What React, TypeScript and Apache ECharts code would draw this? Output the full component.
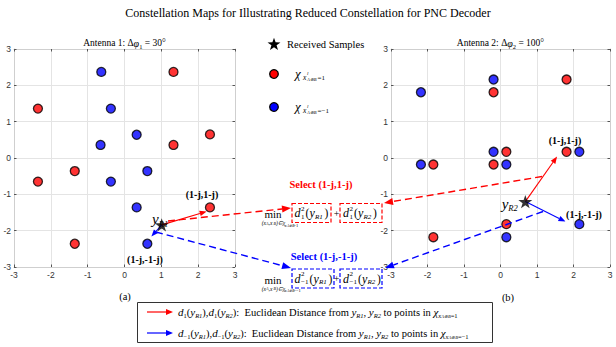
import React, { useEffect, useRef } from "react";
import * as echarts from "echarts";

// ---------- data ----------
const axisMin = -3;
const axisMax = 3;
const ant1Red: number[][] = [[1.33, 2.37], [-2.35, 1.36], [1.33, 0.36], [2.32, 0.65], [-1.35, -0.36], [-2.35, -0.65], [2.32, -1.36], [-1.35, -2.36]];
const ant1Blue: number[][] = [[-0.63, 2.37], [-0.37, 1.36], [0.33, 0.64], [-0.65, 0.36], [0.62, -0.36], [-0.37, -0.65], [0.33, -1.36], [0.62, -2.36]];
const ant1Sample: number[][] = [[1.01, -1.84]];
const ant2Red: number[][] = [[1.81, 2.16], [-0.19, 1.81], [0.16, 0.17], [1.81, 0.17], [-1.84, -0.18], [-0.19, -0.18], [0.16, -1.82], [-1.84, -2.18]];
const ant2Blue: number[][] = [[-0.19, 2.16], [-2.18, 1.81], [-0.19, 0.17], [2.16, 0.17], [-2.18, -0.18], [0.16, -0.18], [2.16, -1.82], [0.16, -2.18]];
const ant2Sample: number[][] = [[0.68, -1.2]];
// solid arrow tips (data coords)
const ant1TipRed = [2.23, -1.47];
const ant1TipBlue = [0.73, -2.16];
const ant2TipRed = [1.55, 0.04];
const ant2TipBlue = [1.78, -1.75];

const RED = "#ff0000";
const BLUE = "#0000ff";
const SERIF = '"Liberation Serif", "Times New Roman", serif';
const SANS = '"Liberation Sans", Arial, sans-serif';
const STAR = "path://M50,0 L61.8,35.1 L98.9,35.1 L69,57.3 L80.3,92.7 L50,71 L19.7,92.7 L31,57.3 L1.1,35.1 L38.2,35.1 Z";

function T(x: number, y: number, text: string, size: number, o: any = {}) {
  return {
    type: "text", x, y, silent: true, z: o.z ?? 5,
    style: {
      text, fontSize: size, fontFamily: o.family || SERIF,
      fontStyle: o.italic ? "italic" : "normal", fontWeight: o.bold ? "bold" : "normal",
      fill: o.color || "#000", align: o.align || "left", verticalAlign: "middle",
    },
  };
}

function arrow(x1: number, y1: number, x2: number, y2: number, color: string, dash: boolean, head = 8, hw = 3.2, w = 1.3) {
  const dx = x2 - x1, dy = y2 - y1, L = Math.hypot(dx, dy);
  const ux = dx / L, uy = dy / L;
  const bx = x2 - ux * head, by = y2 - uy * head;
  return [
    { type: "line", silent: true, z: 4, shape: { x1, y1, x2: bx, y2: by }, style: { stroke: color, lineWidth: w, lineDash: dash ? [7, 4] : null } },
    { type: "polygon", silent: true, z: 4, shape: { points: [[x2, y2], [bx - uy * hw, by + ux * hw], [bx + uy * hw, by - ux * hw]] }, style: { fill: color } },
  ];
}

function starPoly(cx: number, cy: number, R: number, r: number) {
  const pts: number[][] = [];
  for (let k = 0; k < 10; k++) {
    const ang = -Math.PI / 2 + (k * Math.PI) / 5;
    const rad = k % 2 === 0 ? R : r;
    pts.push([cx + rad * Math.cos(ang), cy + rad * Math.sin(ang)]);
  }
  return { type: "polygon", silent: true, z: 5, shape: { points: pts }, style: { fill: "#000" } };
}

function dTerm(x: number, y: number, sub: string, r: string) {
  const sw = sub.length > 1 ? 8 : 4;
  const els: any[] = [];
  els.push(T(x, y, "d", 12, { italic: true }));
  els.push(T(x + 6.5, y - 4.5, "2", 7));
  els.push(T(x + 6.5, y + 3.5, sub, 7));
  const p = x + 6.5 + sw + 0.5;
  els.push(T(p, y, "(", 11.5));
  els.push(T(p + 4, y, "y", 12, { italic: true }));
  els.push(T(p + 9.5, y + 3.5, "R" + r, 7, { italic: true }));
  els.push(T(p + 19, y, ")", 11.5));
  return els;
}

function chiLabel(x: number, y: number, v: string) {
  return [
    T(x, y, "χ", 13, { italic: true }),
    T(x + 8, y + 4, "x", 7.5, { italic: true }),
    T(x + 12, y + 0.5, "l", 5, { italic: true }),
    T(x + 12, y + 6, "A⊕B", 4.5, { italic: true }),
    T(x + 22.5, y + 4.5, "=" + v, 7),
  ];
}

const rich = {
  n: { fontSize: 10.5, fontFamily: SERIF, lineHeight: 14 },
  i: { fontSize: 11, fontFamily: SERIF, fontStyle: "italic", lineHeight: 14 },
  s: { fontSize: 6.5, fontFamily: SERIF, fontStyle: "italic", lineHeight: 8, verticalAlign: "bottom" },
  sn: { fontSize: 6.5, fontFamily: SERIF, lineHeight: 8, verticalAlign: "bottom" },
  t: { fontSize: 4.5, fontFamily: SERIF, fontStyle: "italic", lineHeight: 6, verticalAlign: "bottom" },
};

function legendRow(y: number, sub: string, eq: string) {
  return {
    type: "text", x: 178, y, silent: true, z: 5,
    style: {
      text: `{i|d}{sn|${sub}}{n|(}{i|y}{s|R1}{n|),}{i|d}{sn|${sub}}{n|(}{i|y}{s|R2}{n|):  Euclidean Distance from }{i|y}{s|R1}{n|, }{i|y}{s|R2}{n| to points in }{i|χ}{s|x}{t|A⊕B}{sn|=${eq}}`,
      rich, align: "left", verticalAlign: "middle", fill: "#000",
    },
  };
}

function axesFor(grid: number) {
  const common = {
    gridIndex: grid, type: "value", min: axisMin, max: axisMax, interval: 1,
    axisLine: { show: true, onZero: false, lineStyle: { color: "#cfcfcf", width: 1 } },
    axisTick: { show: true, inside: true, length: 2.5, lineStyle: { color: "#555" } },
  };
  const lbl = { fontSize: 8.5, fontFamily: SANS, color: "#333", margin: 3 };
  return {
    x: [
      { ...common, position: "bottom", splitLine: { show: true, lineStyle: { color: "#e4e4e4" } }, axisLabel: lbl },
      { ...common, position: "top", splitLine: { show: false }, axisLabel: { show: false } },
    ],
    y: [
      { ...common, position: "left", splitLine: { show: true, lineStyle: { color: "#e4e4e4" } }, axisLabel: lbl },
      { ...common, position: "right", splitLine: { show: false }, axisLabel: { show: false } },
    ],
  };
}

export default function App() {
  const ref = useRef<HTMLDivElement>(null);
  useEffect(() => {
    document.body.style.margin = "0";
    const chart = echarts.init(ref.current!, null, { renderer: "svg" });
    const a0 = axesFor(0), a1 = axesFor(1);
    const dot = (color: string) => ({ symbol: "circle", symbolSize: 9, itemStyle: { color, borderColor: "#000", borderWidth: 1.3 }, z: 3 });
    const star = { symbol: STAR, symbolSize: 14, symbolKeepAspect: true, itemStyle: { color: "#000" }, z: 6 };
    chart.setOption({
      animation: false,
      grid: [
        { left: 14, top: 49, width: 221, height: 218, outerBoundsMode: "none" },
        { left: 391, top: 49, width: 219, height: 218, outerBoundsMode: "none" },
      ],
      xAxis: [...a0.x, ...a1.x],
      yAxis: [...a0.y, ...a1.y],
      series: [
        { type: "scatter", xAxisIndex: 0, yAxisIndex: 0, data: ant1Red, ...dot(RED) },
        { type: "scatter", xAxisIndex: 0, yAxisIndex: 0, data: ant1Blue, ...dot(BLUE) },
        { type: "scatter", xAxisIndex: 0, yAxisIndex: 0, data: ant1Sample, ...star },
        { type: "scatter", xAxisIndex: 2, yAxisIndex: 2, data: ant2Red, ...dot(RED) },
        { type: "scatter", xAxisIndex: 2, yAxisIndex: 2, data: ant2Blue, ...dot(BLUE) },
        { type: "scatter", xAxisIndex: 2, yAxisIndex: 2, data: ant2Sample, ...star },
      ],
    });

    const px = (si: number, v: number[]) => chart.convertToPixel({ seriesIndex: si }, v) as number[];
    const s1 = px(2, ant1Sample[0]);
    const s2 = px(5, ant2Sample[0]);
    const r1 = px(2, ant1TipRed), b1 = px(2, ant1TipBlue);
    const r2 = px(5, ant2TipRed), b2 = px(5, ant2TipBlue);

    const antRich = { ...rich, n: { ...rich.n, fontSize: 9.5 }, i: { ...rich.i, fontSize: 10 } };
    const els: any[] = [
      T(308, 13, "Constellation Maps for Illustrating Reduced Constellation for PNC Decoder", 12, { align: "center" }),
      {
        type: "text", x: 124.5, y: 43, silent: true,
        style: { text: "{n|Antenna 1: Δ}{i|φ}{sn|1}{n| = 30°}", rich: antRich, align: "center", verticalAlign: "middle" },
      },
      {
        type: "text", x: 500.5, y: 43, silent: true,
        style: { text: "{n|Antenna 2: Δ}{i|φ}{sn|2}{n| = 100°}", rich: antRich, align: "center", verticalAlign: "middle" },
      },
    ];
    // middle legend
    els.push(starPoly(274, 44.5, 6.8, 2.7));
    els.push(T(287, 44, "Received Samples", 10.5));
    els.push({ type: "circle", silent: true, shape: { cx: 274, cy: 74, r: 4.3 }, style: { fill: RED, stroke: "#000", lineWidth: 1.3 } });
    els.push({ type: "circle", silent: true, shape: { cx: 274, cy: 107, r: 4.3 }, style: { fill: BLUE, stroke: "#000", lineWidth: 1.3 } });
    els.push(...chiLabel(295, 73, "1"));
    els.push(...chiLabel(295, 106, "−1"));

    // labels near points
    els.push(T(s1[0] - 3, s1[1] - 6, "y", 15, { italic: true, align: "right", z: 1 }));
    els.push(T(s1[0] - 3, s1[1] - 1, "R1", 8.5, { italic: true, z: 1 }));
    els.push(T(s2[0] - 17, s2[1] + 2, "y", 15, { italic: true, align: "right", z: 1 }));
    els.push(T(s2[0] - 17, s2[1] + 6, "R2", 8.5, { italic: true, z: 1 }));
    els.push(T(202, 194, "(1-j,1-j)", 10, { bold: true, align: "center" }));
    els.push(T(145, 259, "(1-j,-1-j)", 10, { bold: true, align: "center" }));
    els.push(T(565, 140, "(1-j,1-j)", 10, { bold: true, align: "center" }));
    els.push(T(584, 214, "(1-j,-1-j)", 10, { bold: true, align: "center" }));

    // solid arrows
    els.push(...arrow(s1[0], s1[1], r1[0], r1[1], RED, false, 7, 2.8, 1.1));
    els.push(...arrow(s1[0], s1[1], b1[0], b1[1], BLUE, false, 7, 2.8, 1.1));
    els.push(...arrow(s2[0], s2[1], r2[0], r2[1], RED, false, 7, 2.8, 1.1));
    els.push(...arrow(s2[0], s2[1], b2[0], b2[1], BLUE, false, 7, 2.8, 1.1));
    // dashed arrows
    els.push(...arrow(168, 221, 291, 208, RED, true, 9, 3.5, 1.4));
    els.push(...arrow(156, 232, 291, 268, BLUE, true, 9, 3.5, 1.4));
    els.push(...arrow(542, 176.5, 384, 203, RED, true, 9, 3.5, 1.4));
    els.push(...arrow(543, 211.5, 385, 268, BLUE, true, 9, 3.5, 1.4));

    // select texts
    els.push(T(321, 184, "Select (1-j,1-j)", 10.5, { bold: true, color: RED, align: "center" }));
    els.push(T(324, 256, "Select (1-j,-1-j)", 10.5, { bold: true, color: BLUE, align: "center" }));

    // min expressions
    const boxes = (yTop: number, color: string, sub: string, eq: string, w1: number) => {
      const h = 19;
      const yc = yTop + h / 2;
      const out: any[] = [];
      out.push({ type: "rect", silent: true, z: 6, shape: { x: 292, y: yTop, width: w1, height: h }, style: { fill: "none", stroke: color, lineWidth: 1.2, lineDash: [4, 2] } });
      out.push({ type: "rect", silent: true, z: 6, shape: { x: 340, y: yTop, width: 42, height: h }, style: { fill: "none", stroke: color, lineWidth: 1.2, lineDash: [4, 2] } });
      out.push(...dTerm(294.5, yc, sub, "1"));
      out.push(T(336.5, yc, "+", 10, { align: "center" }));
      out.push(...dTerm(343, yc, sub, "2"));
      out.push(T(273, yc + 1, "min", 11, { align: "center" }));
      out.push(T(266, yc + 10, "(x", 5.5, { italic: true, align: "right" }));
      out.push(T(266, yc + 10, "A", 4, { italic: true }));
      out.push(T(268.5, yc + 10, ",x", 5.5, { italic: true }));
      out.push(T(273.5, yc + 10, "B", 4, { italic: true }));
      out.push(T(276, yc + 10, ")∈χ", 5.5, { italic: true }));
      out.push(T(284.5, yc + 12, "x", 4.5, { italic: true }));
      out.push(T(287, yc + 12.5, "A⊕B", 3.5, { italic: true }));
      out.push(T(293.5, yc + 12, "=" + eq, 4.5));
      return out;
    };
    els.push(...boxes(203.5, RED, "1", "1", 39));
    els.push(...boxes(269, BLUE, "−1", "−1", 42));

    // captions
    els.push(T(125, 296, "(a)", 10.5, { align: "center" }));
    els.push(T(508, 297, "(b)", 10.5, { align: "center" }));

    // bottom legend
    els.push({ type: "rect", silent: true, shape: { x: 137.5, y: 302.5, width: 355, height: 40 }, style: { fill: "#fff", stroke: "#333", lineWidth: 1 }, z: 2 });
    els.push(...arrow(147, 312, 173, 312, RED, false, 7, 3, 1.2));
    els.push(...arrow(147, 333, 173, 333, BLUE, false, 7, 3, 1.2));
    els.push(legendRow(312, "1", "1"));
    els.push(legendRow(333, "−1", "−1"));

    chart.setOption({ graphic: { elements: els } });
    return () => chart.dispose();
  }, []);
  return <div ref={ref} style={{ width: 616, height: 347 }} />;
}
